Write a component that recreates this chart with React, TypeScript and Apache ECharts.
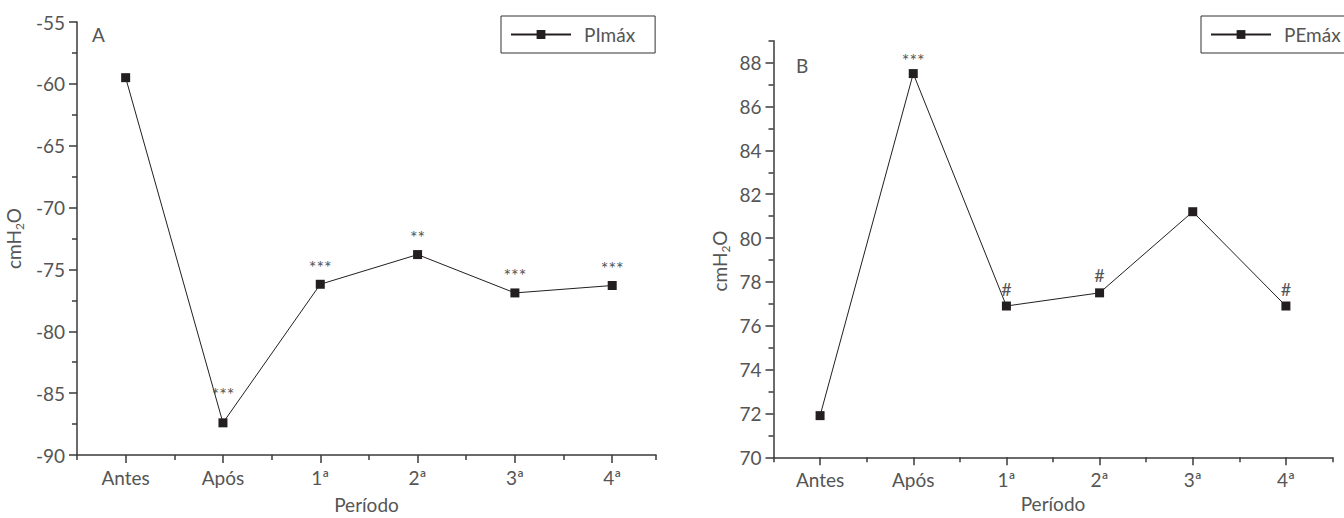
import React, { useEffect, useRef } from "react";
import * as echarts from "echarts";

// ---- data ----
const periods = ["Antes", "Após", "1ª", "2ª", "3ª", "4ª"];
const pimaxValues = [-59.5, -87.4, -76.2, -73.8, -76.9, -76.3];
const pimaxMarks = ["", "***", "***", "**", "***", "***"];
const pemaxValues = [71.9, 87.5, 76.9, 77.5, 81.2, 76.9];
const pemaxMarks = ["", "***", "#", "#", "", "#"];
const pemaxMajorTicks = [70, 72, 74, 76, 78, 80, 82, 84, 86, 88];
const pemaxMinorTicks = [71, 73, 75, 77, 79, 81, 83, 85, 87, 89];

const FONT = "Lato";
const FS = 19;
const TXT = "#555";
const INK = "#231f20";
const AXIS = "#3a3a3a";

const centers = periods.map((_, i) => i + 1);
const bounds = periods.map((_, i) => i + 0.5);

function mainX(gridIndex: number, max: number, nameGap: number) {
  return {
    type: "value",
    gridIndex,
    min: 0.5,
    max,
    splitLine: { show: false },
    axisLine: { show: true, onZero: false, lineStyle: { color: AXIS, width: 1.5 } },
    axisTick: { show: true, customValues: centers, length: 8, lineStyle: { color: AXIS, width: 1.5 } },
    axisLabel: {
      customValues: centers,
      formatter: (v: number) => periods[Math.round(v) - 1] ?? "",
      color: TXT,
      fontFamily: FONT,
      fontSize: FS,
      margin: 13,
    },
    name: "Período",
    nameLocation: "middle",
    nameGap,
    nameTextStyle: { color: TXT, fontFamily: FONT, fontSize: FS },
  };
}

function overlayX(gridIndex: number, max: number) {
  return {
    type: "value",
    gridIndex,
    min: 0.5,
    max,
    splitLine: { show: false },
    axisLine: { show: false, onZero: false },
    axisTick: { show: true, customValues: [...bounds, max], length: 5, lineStyle: { color: AXIS, width: 1.5 } },
    axisLabel: { show: false },
  };
}

function yName(shift: number) {
  return {
    name: "{a|cmH}{s|2}{a|O}",
    nameLocation: "middle",
    nameTextStyle: {
      color: TXT,
      fontFamily: FONT,
      fontSize: FS,
      padding: shift > 0 ? [0, shift, 0, 0] : 0,
      rich: {
        a: { color: TXT, fontFamily: FONT, fontSize: FS, lineHeight: 24, verticalAlign: "middle" },
        s: { color: TXT, fontFamily: FONT, fontSize: 12, lineHeight: 24, verticalAlign: "bottom" },
      },
    },
  };
}

function lineSeries(
  name: string,
  values: number[],
  marks: string[],
  xi: number,
  yi: number,
  gapIndex: number,
  gap: number
) {
  return {
    type: "line",
    name,
    xAxisIndex: xi,
    yAxisIndex: yi,
    symbol: "rect",
    symbolSize: 9,
    lineStyle: { color: INK, width: 1 },
    itemStyle: { color: INK },
    data: values.map((v, i) => ({
      value: [centers[i], v],
      label: i === gapIndex ? { distance: gap } : undefined,
    })),
    label: {
      show: true,
      position: "top",
      distance: 4,
      color: TXT,
      fontFamily: FONT,
      fontSize: 18,
      formatter: (p: any) => marks[p.dataIndex],
    },
  };
}

function legend(name: string, left: number) {
  return {
    data: [name],
    left,
    top: 16,
    orient: "horizontal",
    itemWidth: 60,
    itemHeight: 11,
    selectedMode: false,
    padding: [9, 20, 9, 9],
    borderColor: "#333",
    borderWidth: 1,
    backgroundColor: "#fff",
    textStyle: { color: TXT, fontFamily: FONT, fontSize: FS, padding: [0, 0, 0, 8] },
  };
}

export default function App() {
  const ref = useRef<HTMLDivElement>(null);
  useEffect(() => {
    if (!ref.current) return;
    const chart = echarts.init(ref.current, undefined, { renderer: "svg" });
    const gA = { left: 77, top: 22, width: 579, height: 433, outerBoundsMode: "none" };
    const gB = { left: 773.5, top: 40.7, width: 559, height: 416.6, outerBoundsMode: "none" };
    chart.setOption({
      animation: false,
      backgroundColor: "#fff",
      textStyle: { fontFamily: FONT },
      grid: [gA, gA, gB, gB],
      legend: [legend("PImáx", 501), legend("PEmáx", 1201)],
      xAxis: [mainX(0, 6.45, 40), overlayX(1, 6.45), mainX(2, 6.5, 37), overlayX(3, 6.5)],
      yAxis: [
        {
          type: "value",
          gridIndex: 0,
          min: -90,
          max: -55,
          interval: 5,
          splitLine: { show: false },
          axisLine: { show: true, lineStyle: { color: AXIS, width: 1.5 } },
          axisTick: { show: true, length: 8, lineStyle: { color: AXIS, width: 1.5 } },
          minorTick: { show: true, splitNumber: 2, length: 5, lineStyle: { color: AXIS, width: 1.5 } },
          axisLabel: { color: TXT, fontFamily: FONT, fontSize: FS, margin: 12 },
          ...yName(0),
          nameGap: 52,
        },
        { type: "value", gridIndex: 1, min: -90, max: -55, show: false },
        {
          type: "value",
          gridIndex: 2,
          min: 70,
          max: 89,
          splitLine: { show: false },
          axisLine: { show: true, lineStyle: { color: AXIS, width: 1.5 } },
          axisTick: { show: true, customValues: pemaxMajorTicks, length: 8, lineStyle: { color: AXIS, width: 1.5 } },
          axisLabel: { customValues: pemaxMajorTicks, color: TXT, fontFamily: FONT, fontSize: FS, margin: 12 },
          ...yName(24),
          nameGap: 42,
        },
        {
          type: "value",
          gridIndex: 3,
          min: 70,
          max: 89,
          splitLine: { show: false },
          axisLine: { show: false },
          axisTick: { show: true, customValues: pemaxMinorTicks, length: 5, lineStyle: { color: AXIS, width: 1.5 } },
          axisLabel: { show: false },
        },
      ],
      series: [
        lineSeries("PImáx", pimaxValues, pimaxMarks, 0, 0, 1, 15),
        lineSeries("PEmáx", pemaxValues, pemaxMarks, 2, 2, 1, 0),
      ],
      graphic: [
        { type: "text", left: 92, top: 25, style: { text: "A", fill: TXT, fontFamily: FONT, fontSize: FS } },
        { type: "text", left: 796, top: 56, style: { text: "B", fill: TXT, fontFamily: FONT, fontSize: FS } },
      ],
    });
    return () => chart.dispose();
  }, []);
  return <div ref={ref} style={{ position: "fixed", left: 0, top: 0, width: 1344, height: 518 }} />;
}
